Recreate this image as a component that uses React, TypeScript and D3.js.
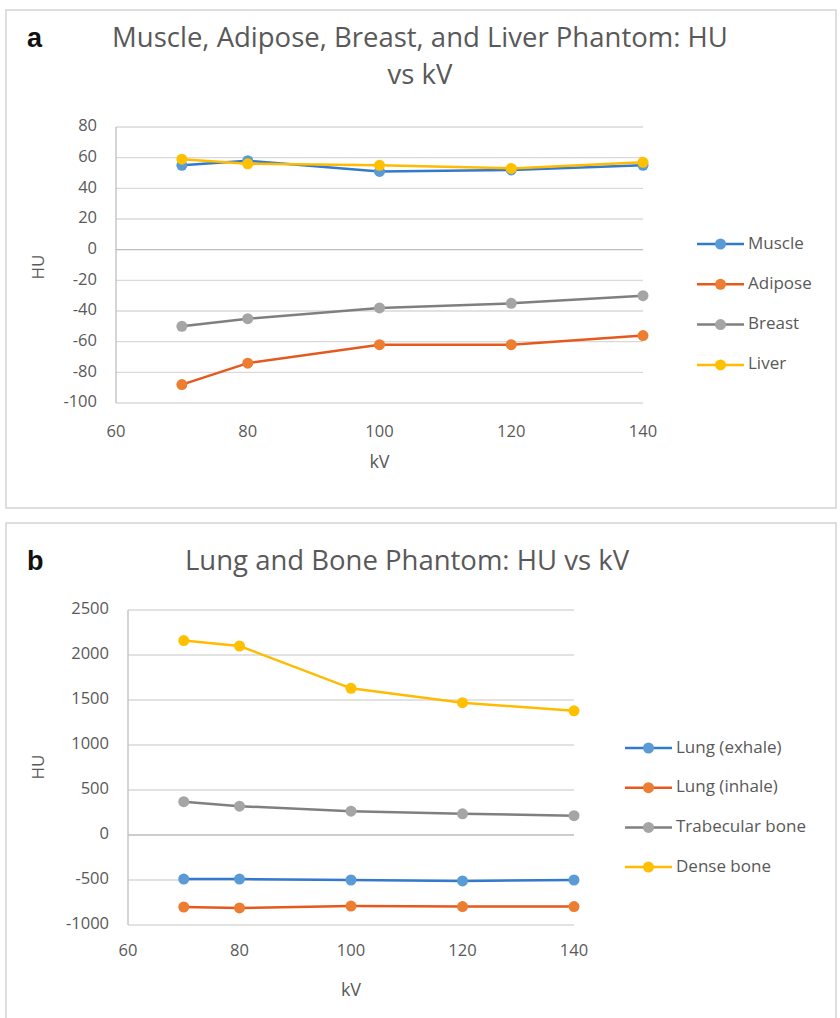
import React, { useRef, useEffect } from "react";
import * as d3 from "d3";

// shared x values (kV)
const kv = [70, 80, 100, 120, 140];
const xTicks = [60, 80, 100, 120, 140];

// panel a
const muscle = [55, 58, 51, 52, 55];
const adipose = [-88, -74, -62, -62, -56];
const breast = [-50, -45, -38, -35, -30];
const liver = [59, 56, 55, 53, 57];
const yTicksA = [80, 60, 40, 20, 0, -20, -40, -60, -80, -100];

// panel b
const lungExhale = [-490, -490, -500, -510, -500];
const lungInhale = [-800, -810, -790, -795, -795];
const trabecular = [370, 320, 265, 235, 215];
const denseBone = [2160, 2100, 1630, 1470, 1380];
const yTicksB = [2500, 2000, 1500, 1000, 500, 0, -500, -1000];

const lineColors = ["#3379CC", "#E55A1C", "#7F7F7F", "#FFBB00"];
const markerColors = ["#5B9BD5", "#ED7D31", "#A5A5A5", "#FFC000"];
const font = "'Open Sans', sans-serif";
const textColor = "#595959";

function drawPanel(svg, opts) {
  const { box, letter, titleLines, titleY, titleSize, series, names, yTicks,
    xRange, yRange, xTickY, kvY, huX, legend } = opts;

  // panel frame
  svg.append("rect")
    .attr("x", box[0]).attr("y", box[1])
    .attr("width", box[2]).attr("height", box[3])
    .attr("fill", "white").attr("stroke", "#D4D4D4").attr("stroke-width", 1.5);

  svg.append("text")
    .attr("x", 27).attr("y", titleY[0])
    .attr("font-family", "Arial, 'Liberation Sans', sans-serif")
    .attr("font-weight", "bold").attr("font-size", 27)
    .attr("fill", "#111").attr("dominant-baseline", "middle")
    .text(letter);

  titleLines.forEach((t, i) => {
    svg.append("text")
      .attr("x", opts.titleX).attr("y", titleY[i])
      .attr("text-anchor", "middle").attr("dominant-baseline", "middle")
      .attr("font-family", font).attr("font-size", titleSize)
      .attr("fill", textColor)
      .text(t);
  });

  const x = d3.scaleLinear().domain([60, 140]).range(xRange);
  const y = d3.scaleLinear().domain([yTicks[yTicks.length - 1], yTicks[0]]).range(yRange);

  // gridlines
  svg.append("g").selectAll("line").data(yTicks).enter().append("line")
    .attr("x1", xRange[0]).attr("x2", xRange[1])
    .attr("y1", d => y(d)).attr("y2", d => y(d))
    .attr("stroke", d => (d === 0 ? "#BDBDBD" : "#D9D9D9")).attr("stroke-width", 1.3);

  // left axis line
  svg.append("line")
    .attr("x1", xRange[0]).attr("x2", xRange[0])
    .attr("y1", yRange[1]).attr("y2", yRange[0])
    .attr("stroke", "#BFBFBF").attr("stroke-width", 1.3);

  // y tick labels
  svg.append("g").selectAll("text").data(yTicks).enter().append("text")
    .attr("x", xRange[0] - 19).attr("y", d => y(d))
    .attr("text-anchor", "end").attr("dominant-baseline", "middle")
    .attr("font-family", font).attr("font-size", 16.5).attr("fill", textColor)
    .text(d => d);

  // x tick labels
  svg.append("g").selectAll("text").data(xTicks).enter().append("text")
    .attr("x", d => x(d)).attr("y", xTickY)
    .attr("text-anchor", "middle").attr("dominant-baseline", "middle")
    .attr("font-family", font).attr("font-size", 16.5).attr("fill", textColor)
    .text(d => d);

  // axis titles
  svg.append("text")
    .attr("x", (xRange[0] + xRange[1]) / 2).attr("y", kvY)
    .attr("text-anchor", "middle").attr("dominant-baseline", "middle")
    .attr("font-family", font).attr("font-size", 18).attr("fill", textColor)
    .text("kV");
  svg.append("text")
    .attr("transform", `translate(${huX},${opts.huY}) rotate(-90)`)
    .attr("text-anchor", "middle").attr("dominant-baseline", "middle")
    .attr("font-family", font).attr("font-size", 17).attr("fill", textColor)
    .text("HU");

  const line = d3.line().x((d, i) => x(kv[i])).y(d => y(d));

  series.forEach((s, si) => {
    svg.append("path")
      .attr("d", line(s))
      .attr("fill", "none")
      .attr("stroke", lineColors[si]).attr("stroke-width", 2.5);
    svg.append("g").selectAll("circle").data(s).enter().append("circle")
      .attr("cx", (d, i) => x(kv[i])).attr("cy", d => y(d))
      .attr("r", 5.5)
      .attr("fill", markerColors[si]);
  });

  // legend
  names.forEach((n, i) => {
    const ly = legend.y + i * legend.step;
    svg.append("line")
      .attr("x1", legend.x).attr("x2", legend.x + 47)
      .attr("y1", ly).attr("y2", ly)
      .attr("stroke", lineColors[i]).attr("stroke-width", 2.5);
    svg.append("circle")
      .attr("cx", legend.x + 23.5).attr("cy", ly).attr("r", 5.5)
      .attr("fill", markerColors[i]);
    svg.append("text")
      .attr("x", legend.x + 51).attr("y", ly)
      .attr("dominant-baseline", "middle")
      .attr("font-family", font).attr("font-size", 17).attr("fill", textColor)
      .text(n);
  });
}

export default function App() {
  const ref = useRef(null);

  useEffect(() => {
    const svg = d3.select(ref.current);
    svg.selectAll("*").remove();

    drawPanel(svg, {
      box: [6, 10, 830, 498],
      letter: "a",
      titleLines: ["Muscle, Adipose, Breast, and Liver Phantom: HU", "vs kV"],
      titleX: 420,
      titleY: [40, 77],
      titleSize: 27.5,
      series: [muscle, adipose, breast, liver],
      names: ["Muscle", "Adipose", "Breast", "Liver"],
      yTicks: yTicksA,
      xRange: [116, 643],
      yRange: [403, 127],
      xTickY: 433,
      kvY: 463,
      huX: 39,
      huY: 267,
      legend: { x: 697, y: 244, step: 40.3 }
    });

    drawPanel(svg, {
      box: [6, 523, 830, 520],
      letter: "b",
      titleLines: ["Lung and Bone Phantom: HU vs kV"],
      titleX: 407,
      titleY: [563],
      titleSize: 27.5,
      series: [lungExhale, lungInhale, trabecular, denseBone],
      names: ["Lung (exhale)", "Lung (inhale)", "Trabecular bone", "Dense bone"],
      yTicks: yTicksB,
      xRange: [128, 574],
      yRange: [925, 610],
      xTickY: 952,
      kvY: 991,
      huX: 39,
      huY: 767,
      legend: { x: 625, y: 748, step: 39.7 }
    });
  }, []);

  return (
    <svg
      ref={ref}
      width={840}
      height={1018}
      style={{ position: "absolute", left: 0, top: 0, background: "white" }}
    ></svg>
  );
}
